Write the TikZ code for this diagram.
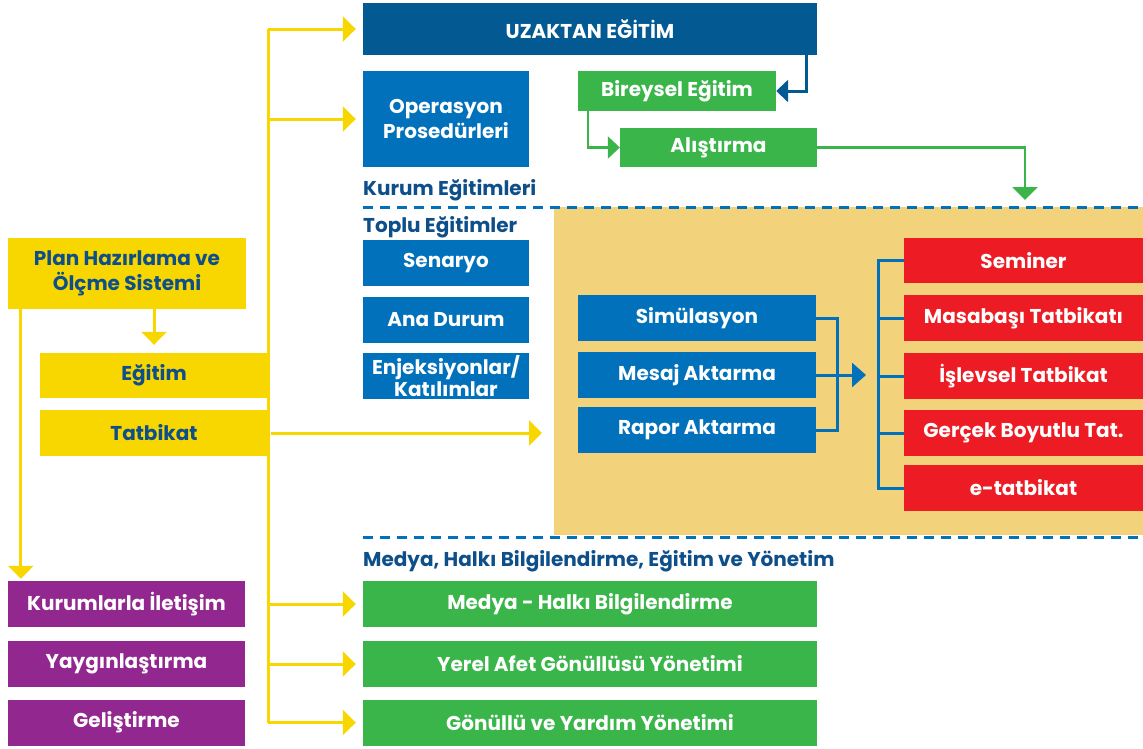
\documentclass[tikz,border=0pt]{standalone}
\usepackage{fontspec}
\setmainfont{Poppins}
\usetikzlibrary{arrows.meta}
\definecolor{darkblue}{RGB}{3,90,147}
\definecolor{midblue}{RGB}{0,113,186}
\definecolor{textblue}{RGB}{14,79,138}
\definecolor{boxgreen}{RGB}{57,181,74}
\definecolor{boxred}{RGB}{237,28,36}
\definecolor{boxpurple}{RGB}{146,39,143}
\definecolor{boxyellow}{RGB}{248,214,0}
\definecolor{tan}{RGB}{242,210,122}

\begin{document}
\begin{tikzpicture}[x=1pt,y=-1pt,
  box/.style={rectangle,inner sep=0pt,align=center,text=white,
    font=\bfseries\fontsize{20}{25}\selectfont},
  ylbox/.style={box,fill=boxyellow,text=textblue},
  heading/.style={anchor=base west,inner sep=0pt,text=textblue,
    font=\bfseries\fontsize{20}{25}\selectfont},
  yarrow/.style={draw=boxyellow,line width=3pt,-{Triangle[length=13pt,width=25pt]}},
  ytrunk/.style={draw=boxyellow,line width=3pt},
  bline/.style={draw=midblue,line width=3pt},
  gline/.style={draw=boxgreen,line width=2.5pt},
  sepline/.style={draw=midblue,line width=3pt,dash pattern=on 10pt off 7pt}]
\useasboundingbox (0,0) rectangle (1143,748);

\node [rectangle,fill=tan,minimum width=589pt,minimum height=328pt,inner sep=0pt,anchor=north west] (tatalan) at(554,207){};
\draw[sepline] (363,207)--(1143,207);
\draw[sepline] (363,537)--(1143,537);

\node [heading] (kurumlbl) at(363,195){Kurum Eğitimleri};
\node [heading] (toplulbl) at(363,232){Toplu Eğitimler};
\node [heading] (medyalbl) at(363,566){Medya, Halkı Bilgilendirme, Eğitim ve Yönetim};

\node [box,fill=darkblue,minimum width=454pt,minimum height=52pt] (uzak) at(590,29){UZAKTAN EĞİTİM};
\node [box,fill=midblue,minimum width=166pt,minimum height=96pt] (oper) at(446,119){Operasyon\\Prosedürleri};
\node [box,fill=boxgreen,minimum width=198pt,minimum height=40pt] (bireysel) at(677,91){Bireysel Eğitim};
\node [box,fill=boxgreen,minimum width=197pt,minimum height=39pt] (alistirma) at(718.5,147.5){Alıştırma};

\node [box,fill=midblue,minimum width=166pt,minimum height=46pt] (senaryo) at(446,263){Senaryo};
\node [box,fill=midblue,minimum width=166pt,minimum height=46pt] (anadurum) at(446,320){Ana Durum};
\node [box,fill=midblue,minimum width=166pt,minimum height=46pt,font=\bfseries\fontsize{20}{22}\selectfont] (enjeksiyon) at(446,376){Enjeksiyonlar/\\Katılımlar};

\node [box,fill=midblue,minimum width=238pt,minimum height=46pt] (simulasyon) at(697,318){Simülasyon};
\node [box,fill=midblue,minimum width=238pt,minimum height=46pt] (mesaj) at(697,375){Mesaj Aktarma};
\node [box,fill=midblue,minimum width=238pt,minimum height=46pt] (rapor) at(697,430){Rapor Aktarma};

\node [box,fill=boxred,minimum width=239pt,minimum height=45pt] (seminer) at(1023.5,260.5){Seminer};
\node [box,fill=boxred,minimum width=239pt,minimum height=46pt] (masabasi) at(1023.5,318){Masabaşı Tatbikatı};
\node [box,fill=boxred,minimum width=239pt,minimum height=46pt] (islevsel) at(1023.5,376){İşlevsel Tatbikat};
\node [box,fill=boxred,minimum width=239pt,minimum height=46pt] (gercek) at(1023.5,433){Gerçek Boyutlu Tat.};
\node [box,fill=boxred,minimum width=239pt,minimum height=46pt] (etatbikat) at(1023.5,488){e-tatbikat};

\node [ylbox,minimum width=238pt,minimum height=71pt] (plan) at(127,273.5){Plan Hazırlama ve\\Ölçme Sistemi};
\node [ylbox,minimum width=228pt,minimum height=45pt] (egitim) at(154,375.5){Eğitim};
\node [ylbox,minimum width=228pt,minimum height=46pt] (tatbikat) at(154,433){Tatbikat};

\node [box,fill=boxpurple,minimum width=237pt,minimum height=46pt] (kurumlar) at(126.5,604){Kurumlarla İletişim};
\node [box,fill=boxpurple,minimum width=237pt,minimum height=46pt] (yaygin) at(126.5,664){Yaygınlaştırma};
\node [box,fill=boxpurple,minimum width=237pt,minimum height=46pt] (gelistirme) at(126.5,722.5){Geliştirme};

\node [box,fill=boxgreen,minimum width=454pt,minimum height=46pt] (medya) at(590,604){Medya - Halkı Bilgilendirme};
\node [box,fill=boxgreen,minimum width=454pt,minimum height=46pt] (yerel) at(590,664){Yerel Afet Gönüllüsü Yönetimi};
\node [box,fill=boxgreen,minimum width=454pt,minimum height=46pt] (gonullu) at(590,722.5){Gönüllü ve Yardım Yönetimi};

\coordinate (trunktop) at(268,29);
\coordinate (trunkbot) at(268,722.5);
\draw[ytrunk] (trunktop)--(trunkbot);
\draw[yarrow,shorten >=7pt] (trunktop)--(uzak.west);
\draw[yarrow,shorten >=7pt] (trunktop|-oper)--(oper.west);
\draw[yarrow,shorten >=7pt] (trunktop|-medya)--(medya.west);
\draw[yarrow,shorten >=7pt] (trunktop|-yerel)--(yerel.west);
\draw[yarrow,shorten >=7pt] (trunkbot)--(gonullu.west);
\draw[yarrow,shorten <=3pt,shorten >=12pt] (tatbikat.east)--(tatalan.west|-tatbikat);
\draw[yarrow,shorten >=8pt] (plan.south-|egitim)--(egitim.north);
\draw[yarrow,shorten >=2pt] ([xshift=13pt]plan.south west)--([xshift=13pt]kurumlar.north west);

\draw[draw=darkblue,line width=3pt,-{Triangle[length=12pt,width=22pt]}] ([xshift=-11pt]uzak.south east)|-(bireysel.east);
\draw[gline,-{Triangle[length=12pt,width=22pt]}] ([xshift=10pt]bireysel.south west)|-(alistirma.west);
\draw[gline,-{Triangle[length=13pt,width=25pt]},shorten >=7pt] (alistirma.east)-|(1025,207);

\coordinate (bjoin) at(837,375);
\draw[bline] (simulasyon.east)-|(bjoin|-rapor.east)--(rapor.east);
\draw[bline,-{Triangle[length=14pt,width=24pt]}] (mesaj.east)--(866,375);
\coordinate (rjoin) at(878,260.5);
\draw[bline] (seminer.west)-|(rjoin|-etatbikat.west)--(etatbikat.west);
\draw[bline] (rjoin|-masabasi)--(masabasi.west);
\draw[bline] (rjoin|-islevsel)--(islevsel.west);
\draw[bline] (rjoin|-gercek)--(gercek.west);
\end{tikzpicture}
\end{document}
